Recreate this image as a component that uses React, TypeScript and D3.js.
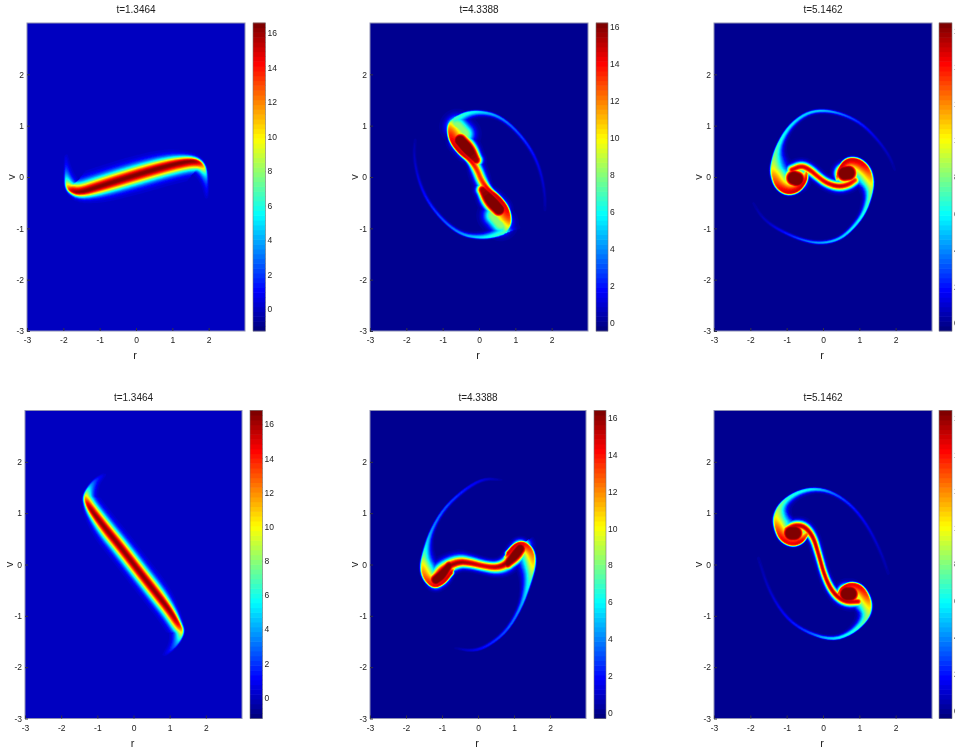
import { useEffect, useRef } from "react";
import * as d3 from "d3";

// each ridge point: r, v, spread on the left of travel (px), spread on the right (px), peak value,
// and optionally the radius (px) of a flat top around the ridge
type Knot = number[];

const titles = ["t=1.3464", "t=4.3388", "t=5.1462", "t=1.3464", "t=4.3388", "t=5.1462"];
const axisTicks = [-3, -2, -1, 0, 1, 2];
const barTicks = [0, 2, 4, 6, 8, 10, 12, 14, 16];

// colour limits of each panel
const climits: [number, number][] = [
  [-1.27, 16.58],
  [-0.43, 16.2],
  [-0.43, 16.4],
  [-1.23, 16.8],
  [-0.33, 16.4],
  [-0.45, 16.4],
];

const bandA: Knot[] = [
  [-1.93, 0.4, 1.5, 1, 0.4], [-1.93, 0.18, 2.5, 1, 1.5], [-1.93, -0.02, 4, 1, 5], [-1.9, -0.18, 5.5, 1.2, 11],
  [-1.8, -0.27, 6, 1.8, 15.5], [-1.54, -0.31, 6.2, 3.5, 16.6], [-0.99, -0.18, 6.2, 5.5, 16.6], [0, 0.04, 6.2, 6.2, 16.6],
  [0.87, 0.22, 5.5, 6.2, 16.6], [1.42, 0.31, 3.5, 6.2, 16.6], [1.69, 0.31, 2, 6, 16], [1.86, 0.22, 1.2, 5.5, 12],
  [1.93, 0.05, 1, 4, 5], [1.95, -0.15, 1, 2.5, 1.5], [1.95, -0.38, 1, 1.5, 0.4],
];

const neckB: Knot[] = [
  [-0.5, 1.22, 3, 0.8, 3], [-0.72, 1.12, 7, 0.8, 7], [-0.83, 1.02, 11, 1, 11], [-0.83, 0.85, 13, 1.2, 13.5],
  [-0.75, 0.66, 13, 1.2, 14.5], [-0.52, 0.46, 10, 1.2, 15], [-0.25, 0.33, 5, 2, 14.5], [-0.05, 0.14, 3.5, 3.5, 13.5],
  [0.06, -0.06, 3.5, 3.5, 13.5], [0.27, -0.25, 2, 5, 14.5], [0.54, -0.38, 1.2, 10, 15], [0.77, -0.58, 1.2, 13, 14.5],
  [0.85, -0.77, 1.2, 13, 13.5], [0.85, -0.93, 1, 11, 11], [0.72, -1.08, 0.8, 7, 7], [0.5, -1.16, 0.8, 3, 3],
];
const coreB1: Knot[] = [[-0.52, 0.71, 3.5, 3.5, 16.4, 3.5], [-0.29, 0.53, 3.5, 3.5, 16.4, 4], [-0.08, 0.33, 3, 3, 15.5, 1.5]];
const coreB2: Knot[] = [[0.1, -0.25, 3, 3, 15.5, 1.5], [0.31, -0.45, 3.5, 3.5, 16.4, 4], [0.55, -0.63, 3.5, 3.5, 16.4, 3.5]];
// the soft inner part of the two lobes
const hazeB1: Knot[] = [[-0.6, 0.98, 5, 5, 8, 3], [-0.42, 0.84, 5, 5, 8, 3]];
const hazeB2: Knot[] = [[0.42, -0.75, 5, 5, 8, 3], [0.6, -0.9, 5, 5, 8, 3]];
const filB1: Knot[] = [
  [-0.66, 1.15, 0.8, 6, 7], [-0.34, 1.26, 0.8, 3.5, 6.5], [0.03, 1.28, 0.8, 2.2, 5.5],
  [0.49, 1.21, 0.8, 1.5, 4.5], [0.94, 0.98, 0.8, 1.2, 3.5], [1.4, 0.59, 0.8, 1.1, 2.5], [1.68, 0.17, 0.8, 1, 1.5],
  [1.82, -0.32, 0.8, 1, 0.8], [1.82, -0.64, 0.8, 1, 0.3],
];
const filB2: Knot[] = [
  [0.68, -1.1, 0.8, 6, 7], [0.36, -1.17, 0.8, 3.5, 6.5], [-0.01, -1.19, 0.8, 2.2, 5.5],
  [-0.47, -1.13, 0.8, 1.5, 4.5], [-0.93, -0.9, 0.8, 1.2, 3.5], [-1.39, -0.51, 0.8, 1.1, 2.5], [-1.66, -0.09, 0.8, 1, 1.5],
  [-1.8, 0.4, 0.8, 1, 0.8], [-1.76, 0.72, 0.8, 1, 0.3],
];

const rimC1: Knot[] = [
  [1.98, 0.14, 1, 0.8, 0.2], [1.84, 0.4, 1, 0.8, 0.7], [1.52, 0.72, 1, 0.8, 1.3], [1.06, 1.05, 1, 0.8, 2.5],
  [0.51, 1.24, 1.1, 0.8, 4], [-0.04, 1.31, 1.3, 0.8, 5.5], [-0.5, 1.24, 1.5, 0.8, 5.5], [-0.96, 0.98, 2, 0.8, 6],
  [-1.28, 0.59, 3, 0.8, 7], [-1.41, 0.24, 9, 1, 9], [-1.4, 0.04, 11, 1.2, 12], [-1.28, -0.2, 11, 1.2, 14],
  [-1, -0.33, 10, 1.2, 15], [-0.68, -0.28, 8, 1.2, 15], [-0.47, -0.09, 6, 1.2, 15], [-0.44, 0.07, 3, 1, 13],
];
const rimC2: Knot[] = [
  [-1.92, -0.51, 1, 0.8, 0.2], [-1.73, -0.74, 1, 0.8, 0.6], [-1.5, -0.9, 1, 0.8, 1], [-1.14, -1.06, 1, 0.8, 2],
  [-0.59, -1.23, 1, 0.8, 3.5], [-0.08, -1.3, 1.1, 0.8, 5], [0.42, -1.23, 1.2, 0.8, 5.5], [0.79, -1.03, 1.5, 0.8, 6],
  [1.15, -0.71, 2, 0.8, 6.5], [1.34, -0.32, 3.5, 0.8, 8], [1.36, -0.06, 10, 1.2, 11], [1.25, 0.19, 11, 1.2, 14],
  [0.97, 0.35, 10, 1.2, 15], [0.65, 0.35, 8, 1.2, 15], [0.44, 0.17, 6, 1.2, 15], [0.38, 0, 3, 1, 13],
];
const coreC1: Knot[] = [[-0.8, -0.02, 3.2, 3.2, 16.4, 5], [-0.72, -0.04, 3.2, 3.2, 16.4, 5]];
const coreC2: Knot[] = [[0.6, 0.07, 3.2, 3.2, 16.4, 5], [0.7, 0.08, 3.2, 3.2, 16.4, 5]];
const armC: Knot[] = [
  [-0.86, 0.14, 3, 3, 15], [-0.59, 0.22, 3, 3, 15], [-0.36, 0.14, 3, 3, 15], [-0.13, 0, 2.8, 2.8, 14.5],
  [0.1, -0.12, 2.8, 2.8, 15], [0.42, -0.19, 3, 3, 15.5], [0.7, -0.15, 3, 3, 15], [0.88, -0.06, 3, 3, 14],
];

const bandD: Knot[] = [
  [-0.83, 1.75, 2, 1, 0.4], [-1.06, 1.65, 3, 1, 2], [-1.25, 1.49, 4.5, 1, 5], [-1.35, 1.32, 5, 1.2, 11],
  [-1.28, 1.17, 5, 2, 15.5], [-1.11, 1, 5, 3.5, 16.5], [-0.74, 0.67, 5, 5, 16.5], [-0.37, 0.35, 5, 5, 16.5],
  [0.13, -0.11, 5, 5, 16.5], [0.64, -0.57, 5, 5, 16.5], [1.01, -0.9, 3.5, 5, 16.5], [1.24, -1.15, 2, 5, 15.5],
  [1.36, -1.3, 1.2, 5, 11], [1.27, -1.48, 1, 4.5, 5], [1.09, -1.64, 1, 3, 2], [0.87, -1.76, 1, 2, 0.4],
];

const rimE1: Knot[] = [
  [0.66, 1.65, 1, 0.8, 0.3], [0.15, 1.68, 1.1, 0.8, 1.5], [-0.41, 1.45, 1.2, 0.8, 2.5], [-0.96, 1.09, 1.3, 0.8, 3.5],
  [-1.33, 0.64, 1.6, 0.8, 4.5], [-1.5, 0.25, 4, 1, 6.5], [-1.57, -0.04, 9, 1.2, 11], [-1.5, -0.27, 9, 1.2, 13],
  [-1.24, -0.45, 8, 1.2, 14.5], [-0.96, -0.37, 8, 1.2, 15], [-0.73, -0.16, 5, 1.5, 15],
];
const rimE2: Knot[] = [
  [-0.64, -1.63, 1, 0.8, 0.3], [-0.18, -1.69, 1.1, 0.8, 1.5], [0.24, -1.61, 1.2, 0.8, 2.5], [0.8, -1.31, 1.3, 0.8, 3.5],
  [1.21, -0.83, 1.6, 0.8, 4.5], [1.45, -0.34, 4, 1, 6.5], [1.57, 0.02, 9, 1.2, 11], [1.52, 0.28, 9, 1.2, 13],
  [1.28, 0.44, 8, 1.2, 14.5], [1.03, 0.4, 8, 1.2, 15], [0.82, 0.22, 5, 1.5, 15],
];
const waveE: Knot[] = [
  [-1.13, -0.24, 5, 5, 16], [-0.96, -0.09, 5, 4, 16], [-0.55, 0.05, 4.5, 3.5, 16], [-0.22, 0.03, 3.8, 3.2, 15.5],
  [0.15, -0.03, 3.2, 3.2, 15], [0.52, -0.06, 3.2, 3.8, 15.5], [0.8, 0.02, 3.5, 4.5, 16], [0.98, 0.22, 3.5, 5, 16], [1.21, 0.36, 3, 5, 16],
];
const coreE1: Knot[] = [[-1.17, -0.3, 3.5, 3.5, 16.4, 2.5], [-1.01, -0.21, 3.5, 3.5, 16.4, 3], [-0.8, -0.02, 3, 3, 16.2, 1.5]];
const coreE2: Knot[] = [[0.82, 0.02, 3, 3, 16.2, 1.5], [1.03, 0.18, 3.5, 3.5, 16.4, 3], [1.17, 0.31, 3.5, 3.5, 16.4, 2.5]];

const rimF1: Knot[] = [
  [1.8, -0.17, 1, 0.8, 0.3], [1.61, 0.22, 1, 0.8, 0.8], [1.25, 0.74, 1, 0.8, 1.5], [0.79, 1.16, 1, 0.8, 2.5],
  [0.24, 1.42, 1.2, 0.8, 4], [-0.27, 1.49, 1.8, 0.8, 6], [-0.77, 1.4, 2.5, 0.8, 6.5], [-1.18, 1.19, 4, 0.8, 7.5],
  [-1.34, 0.93, 10, 1.2, 10], [-1.3, 0.7, 10, 1.2, 13], [-1.16, 0.48, 9, 1.2, 14.5], [-0.86, 0.37, 8, 1.2, 14.5],
  [-0.59, 0.43, 7, 1.2, 15], [-0.44, 0.57, 4, 1, 13],
];
const rimF2: Knot[] = [
  [-1.78, 0.12, 1, 0.8, 0.3], [-1.5, -0.5, 1, 0.8, 1], [-1.05, -1.02, 1, 0.8, 2], [-0.5, -1.31, 1, 0.8, 3],
  [0.24, -1.48, 1.3, 0.8, 6], [0.79, -1.35, 2, 0.8, 6.5], [1.2, -1.09, 4, 0.8, 7.5], [1.32, -0.86, 10, 1.2, 10],
  [1.26, -0.63, 10, 1.2, 13], [1.06, -0.42, 9, 1.2, 14.5], [0.77, -0.36, 8, 1.2, 14.5], [0.51, -0.45, 7, 1.2, 15],
  [0.42, -0.57, 4, 1, 13],
];
const coreF1: Knot[] = [[-0.87, 0.61, 3.2, 3.2, 16.4, 5], [-0.78, 0.61, 3.2, 3.2, 16.4, 5]];
const coreF2: Knot[] = [[0.66, -0.57, 3.2, 3.2, 16.4, 5], [0.75, -0.57, 3.2, 3.2, 16.4, 5]];
const armF: Knot[] = [
  [-1, 0.68, 3, 3, 15], [-0.77, 0.77, 3, 3, 15.5], [-0.5, 0.74, 3, 3, 15.5], [-0.27, 0.54, 2.5, 2.5, 15.5],
  [-0.13, 0.22, 2.2, 2.2, 15.5], [0.05, -0.24, 2.2, 2.2, 15.5], [0.28, -0.56, 2.5, 2.5, 15.5], [0.6, -0.73, 3, 3, 15.5],
  [0.97, -0.72, 3, 3, 15],
];

const ridges: Knot[][][] = [
  [bandA],
  [filB1, filB2, neckB, coreB1, coreB2, hazeB1, hazeB2],
  [rimC1, rimC2, armC, coreC1, coreC2],
  [bandD],
  [rimE1, rimE2, waveE, coreE1, coreE2],
  [rimF1, rimF2, armF, coreF1, coreF2],
];

// pixel boxes of the six axes and their colorbars
const frames = [
  { x0: 27, x1: 245, y0: 23, y1: 331, b0: 253, b1: 265.5 },
  { x0: 370, x1: 588, y0: 23, y1: 331, b0: 596, b1: 608 },
  { x0: 714, x1: 932, y0: 23, y1: 331, b0: 939, b1: 952 },
  { x0: 25, x1: 242, y0: 410.5, y1: 718.5, b0: 250, b1: 262.5 },
  { x0: 370, x1: 586, y0: 410.5, y1: 718.5, b0: 594, b1: 606 },
  { x0: 714, x1: 932, y0: 410.5, y1: 718.5, b0: 939, b1: 952 },
];

const jet = (t: number) => {
  const c = (o: number) => Math.round(255 * Math.max(0, Math.min(1, 1.5 - Math.abs(4 * t - o))));
  return `rgb(${c(3)},${c(2)},${c(1)})`;
};

// corner cutting so the ridge reads as a curve
const refine = (k: number[][]) => {
  const out = [k[0]];
  for (let i = 0; i < k.length - 1; i++) {
    out.push(k[i].map((c, j) => c * 0.75 + k[i + 1][j] * 0.25));
    out.push(k[i].map((c, j) => c * 0.25 + k[i + 1][j] * 0.75));
  }
  out.push(k[k.length - 1]);
  return out;
};

// density grid for one panel: nearest ridge point gives a gaussian falloff, best ridge wins
const buildField = (knotSets: Knot[][], x: (n: number) => number, y: (n: number) => number, f: (typeof frames)[0]) => {
  const w = Math.round(f.x1 - f.x0);
  const h = Math.round(f.y1 - f.y0);
  const values = new Float64Array(w * h);
  const lines = knotSets.map((knots) => refine(refine(knots.map((k) => [x(k[0]), y(k[1]), k[2], k[3], k[4], k[5] || 0]))));
  for (let j = 0; j < h; j++) {
    const py = f.y0 + j + 0.5;
    for (let i = 0; i < w; i++) {
      const px = f.x0 + ((i + 0.5) * (f.x1 - f.x0)) / w;
      let best = 0;
      for (const line of lines) {
        let dMin = Infinity, val = 0;
        for (let s = 0; s < line.length - 1; s++) {
          const a = line[s];
          const b = line[s + 1];
          const dx = b[0] - a[0];
          const dy = b[1] - a[1];
          const u = Math.max(0, Math.min(1, ((px - a[0]) * dx + (py - a[1]) * dy) / (dx * dx + dy * dy || 1)));
          const ex = px - a[0] - u * dx;
          const ey = py - a[1] - u * dy;
          const d2 = ex * ex + ey * ey;
          if (d2 < dMin) {
            dMin = d2;
            const side = ex * dy - ey * dx >= 0 ? 2 : 3;
            const sig = a[side] + u * (b[side] - a[side]);
            const flat = a[5] + u * (b[5] - a[5]);
            const d = Math.max(0, Math.sqrt(d2) - flat);
            val = (a[4] + u * (b[4] - a[4])) * Math.exp(-(d * d) / (2 * sig * sig));
          }
        }
        if (val > best) best = val;
      }
      values[j * w + i] = best;
    }
  }
  return { values, w, h };
};

const App = () => {
  const ref = useRef<SVGSVGElement>(null);

  useEffect(() => {
    const svg = d3.select(ref.current);
    svg.selectAll("*").remove();

    const defs = svg.append("defs");
    defs.append("filter").attr("id", "soft").attr("x", "-5%").attr("y", "-5%").attr("width", "110%").attr("height", "110%")
      .append("feGaussianBlur").attr("stdDeviation", 0.7);
    defs.append("filter").attr("id", "txt").attr("x", "-20%").attr("y", "-20%").attr("width", "140%").attr("height", "140%")
      .append("feGaussianBlur").attr("stdDeviation", 0.25);

    const geo = d3.geoPath();

    frames.forEach((f, i) => {
      const x = d3.scaleLinear().domain([-3, 3]).range([f.x0, f.x1]);
      const y = d3.scaleLinear().domain([-3, 3]).range([f.y1, f.y0]);
      const clim = climits[i];
      const yBar = d3.scaleLinear().domain(clim).range([f.y1, f.y0]);
      const steps = d3.range(64);
      const edge = d3.scaleLinear().domain([0, 64]).range(clim);
      const base = steps.filter((k) => edge(k) <= 0).length - 1;

      const g = svg.append("g");
      defs.append("clipPath").attr("id", `clip${i}`)
        .append("rect").attr("x", f.x0).attr("y", f.y0).attr("width", f.x1 - f.x0).attr("height", f.y1 - f.y0);

      const plot = g.append("g").attr("clip-path", `url(#clip${i})`);
      plot.append("rect").attr("x", f.x0).attr("y", f.y0).attr("width", f.x1 - f.x0).attr("height", f.y1 - f.y0)
        .attr("fill", jet(base / 63));

      const { values, w, h } = buildField(ridges[i], x, y, f);
      const bins = steps.filter((k) => k > base);
      const contours = d3.contours().size([w, h]).thresholds(bins.map((k) => edge(k)))(values as unknown as number[]);
      plot.append("g").attr("filter", "url(#soft)")
        .attr("transform", `translate(${f.x0},${f.y0}) scale(${(f.x1 - f.x0) / w},${(f.y1 - f.y0) / h})`)
        .selectAll("path").data(contours).enter().append("path")
        .attr("d", (d) => geo(d))
        .attr("fill-rule", "evenodd")
        .attr("fill", (_, n) => jet(bins[n] / 63));

      g.append("rect").attr("x", f.x0).attr("y", f.y0).attr("width", f.x1 - f.x0).attr("height", f.y1 - f.y0)
        .attr("fill", "none").attr("stroke", "#8d90b4").attr("stroke-width", 1);

      const axes = g.append("g").attr("filter", "url(#txt)").attr("font-family", "Liberation Sans").attr("fill", "#222");

      const bottom = axes.append("g").attr("transform", `translate(0,${f.y1})`)
        .call(d3.axisBottom(x).tickValues(axisTicks).tickFormat((d) => String(d)).tickSizeInner(-3).tickSizeOuter(0).tickPadding(6));
      const left = axes.append("g").attr("transform", `translate(${f.x0},0)`)
        .call(d3.axisLeft(y).tickValues(axisTicks).tickFormat((d) => String(d)).tickSizeInner(-3).tickSizeOuter(0).tickPadding(3));
      [bottom, left].forEach((a) => {
        a.select(".domain").remove();
        a.attr("font-size", 8.5).attr("font-family", "Liberation Sans");
        a.selectAll("line").attr("stroke", "#334");
        a.selectAll("text").attr("fill", "#222");
      });

      // colorbar
      const step = d3.scaleBand<number>().domain(steps).range([f.y1, f.y0]);
      g.append("g").selectAll("rect").data(steps).enter().append("rect")
        .attr("x", f.b0)
        .attr("y", (d) => step(d)! - 0.3)
        .attr("width", f.b1 - f.b0)
        .attr("height", step.bandwidth() + 0.6)
        .attr("fill", (d) => jet(d / 63));
      g.append("rect").attr("x", f.b0).attr("y", f.y0).attr("width", f.b1 - f.b0).attr("height", f.y1 - f.y0)
        .attr("fill", "none").attr("stroke", "#777").attr("stroke-width", 0.6);

      const barRight = axes.append("g").attr("transform", `translate(${f.b1},0)`)
        .call(d3.axisRight(yBar).tickValues(barTicks).tickFormat((d) => String(d)).tickSizeInner(-2.5).tickSizeOuter(0).tickPadding(2));
      const barLeft = axes.append("g").attr("transform", `translate(${f.b0},0)`)
        .call(d3.axisLeft(yBar).tickValues(barTicks).tickFormat(() => "").tickSizeInner(-2.5).tickSizeOuter(0));
      [barRight, barLeft].forEach((a) => {
        a.select(".domain").remove();
        a.attr("font-size", 8.5).attr("font-family", "Liberation Sans");
        a.selectAll("line").attr("stroke", "#333").attr("stroke-width", 0.7);
        a.selectAll("text").attr("fill", "#222");
      });

      // titles and axis names
      const cx = (f.x0 + f.x1) / 2;
      axes.append("text").attr("x", cx).attr("y", f.y0 - 10).attr("text-anchor", "middle").attr("font-size", 10).text(titles[i]);
      axes.append("text").attr("x", cx - 1).attr("y", f.y1 + 28).attr("text-anchor", "middle").attr("font-size", 11).text("r");
      axes.append("text").attr("transform", `translate(${f.x0 - 12},${(f.y0 + f.y1) / 2}) rotate(-90)`)
        .attr("text-anchor", "middle").attr("font-size", 11).text("v");
    });
  }, []);

  return (
    <svg
      ref={ref}
      width={955}
      height={754}
      style={{ position: "absolute", left: 0, top: 0, display: "block", background: "#fff" }}
    />
  );
};

export default App;
